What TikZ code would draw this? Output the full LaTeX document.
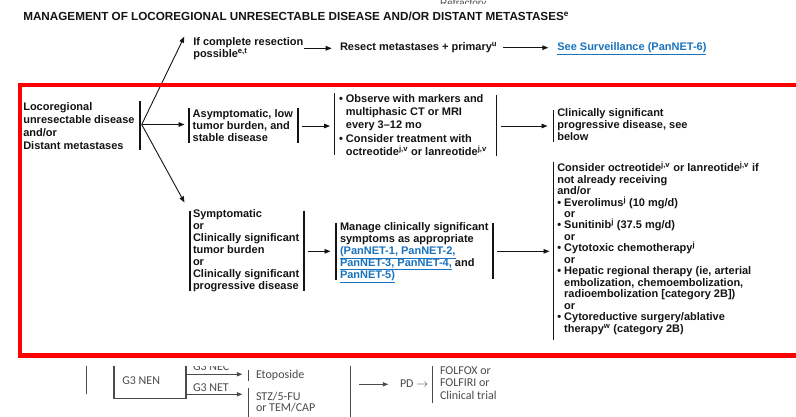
\documentclass[tikz,border=0pt]{standalone}
\usepackage{fontspec}
\setmainfont{Liberation Sans}
\newfontfamily\fragfont{Carlito}
\usetikzlibrary{arrows.meta}
\definecolor{ink}{RGB}{20,20,20}
\definecolor{lnk}{RGB}{25,115,190}
\definecolor{frg}{RGB}{75,75,75}
\definecolor{redbox}{RGB}{255,0,0}
\newcommand\lnk[1]{\textcolor{lnk}{\underline{#1}}}
\newcommand\sps[1]{\textsuperscript{#1}}
\newcommand\fst{\rule{0pt}{10pt}}
\newcommand\bl{\textbullet\ }
\newcommand\ind{\phantom{\textbullet\ }}
\begin{document}
\begin{tikzpicture}[x=1pt,y=-1pt,
  txt/.style={inner sep=0pt, outer sep=0pt, anchor=north west, align=left, text=ink,
    font={\fontsize{11}{#1}\selectfont\bfseries\lineskiplimit=-100pt}},
  txt/.default=13,
  one/.style={inner sep=0pt, outer sep=0pt, anchor=base west, text=ink,
    font=\fontsize{11}{13}\selectfont\bfseries},
  bar/.style={line width=1.8pt, draw=ink},
  arr/.style={line width=0.9pt, draw=ink, -{Triangle[length=6pt,width=4.6pt]}},
  frgtxt/.style={inner sep=0pt, outer sep=0pt, anchor=base west, text=frg,
    font=\fontsize{12}{12}\selectfont\fragfont},
  frgline/.style={line width=1.1pt, draw=frg},
  frgarr/.style={line width=1.1pt, draw=frg, -{Triangle[length=5.5pt,width=4.2pt]}}
]
\useasboundingbox (0,0) rectangle (796,416);
\fill[white] (0,0) rectangle (796,416);

% top clipped fragment
\begin{scope}
\clip (0,0) rectangle (796,3.5);
\node[inner sep=0pt, anchor=base west, text=frg, font=\fontsize{10}{10}\selectfont] (refr) at (440,6) {Refractory};
\end{scope}

% title
\node[one, font=\fontsize{11.7}{13}\selectfont\bfseries] (title) at (23.3,20.7)
  {MANAGEMENT OF LOCOREGIONAL UNRESECTABLE DISEASE AND/OR DISTANT METASTASES\sps{e}};

% top row
\node[txt=12] (ifc) at (193.3,35) {\fst If complete resection\\possible\sps{e,t}};
\node[one] (resect) at (340,50.7) {Resect metastases + primary\sps{u}};
\node[one] (surv) at (557.3,50.7) {\lnk{See Surveillance (PanNET-6)}};

% left main text
\node[txt=13] (loco) at (23.3,100) {\fst Locoregional\\unresectable disease\\and/or\\Distant metastases};

% middle row
\node[txt=12.2] (asym) at (192.7,107.3) {\fst Asymptomatic, low\\tumor burden, and\\stable disease};
\node[txt=13.1] (obs) at (339,92.7) {\fst\bl Observe with markers and\\\ind multiphasic CT or MRI\\\ind every 3–12 mo\\\bl Consider treatment with\\\ind octreotide\sps{j,v} or lanreotide\sps{j,v}};
\node[txt=12] (clin) at (557.3,106) {\fst Clinically significant\\progressive disease, see\\below};

% lower row
\node[txt=12.1] (symp) at (193,207.3) {\fst Symptomatic\\or\\Clinically significant\\tumor burden\\or\\Clinically significant\\progressive disease};
\node[txt=12.1] (manage) at (340,220) {\fst Manage clinically significant\\symptoms as appropriate\\\lnk{(PanNET-1, PanNET-2,}\\\lnk{PanNET-3, PanNET-4,} and\\\lnk{PanNET-5)}};
\node[txt=11.45] (opts) at (557.3,161.7) {\fst Consider octreotide\sps{j,v} or lanreotide\sps{j,v} if\\not already receiving\\and/or\\\bl Everolimus\sps{j} (10 mg/d)\\\ind or\\\bl Sunitinib\sps{j} (37.5 mg/d)\\\ind or\\\bl Cytotoxic chemotherapy\sps{j}\\\ind or\\\bl Hepatic regional therapy (ie, arterial\\\ind embolization, chemoembolization,\\\ind radioembolization [category 2B])\\\ind or\\\bl Cytoreductive surgery/ablative\\\ind therapy\sps{w} (category 2B)};

% bars
\draw[bar] (140,100.7) -- (140,150);
\draw[bar] (189,108) -- (189,143);
\draw[bar] (297.7,108) -- (297.7,143);
\draw[bar] (334.5,93.3) -- (334.5,155);
\draw[bar] (496.5,95) -- (496.5,156);
\draw[bar] (553.5,110) -- (553.5,142);
\draw[bar] (190,210.7) -- (190,290.7);
\draw[bar] (304.3,210.7) -- (304.3,290.7);
\draw[bar] (335.7,222.7) -- (335.7,280);
\draw[bar] (492.7,222.7) -- (492.7,279.3);
\draw[bar] (553.5,161.7) -- (553.5,340);

% connectors
\coordinate (br) at (141.7,124.5);
\coordinate (brUp) at (184.3,36.7);
\coordinate (brMid) at (184.5,124.5);
\coordinate (brLow) at (184.5,202.5);
\draw[arr] (br) -- (brUp);
\draw[arr] (br) -- (brMid);
\draw[arr] (br) -- (brLow);
\coordinate (a1s) at (304,48.3);   \coordinate (a1e) at (331.7,48.3);
\coordinate (a2s) at (503.3,47.7); \coordinate (a2e) at (548.3,47.7);
\coordinate (a3s) at (301.7,126);  \coordinate (a3e) at (330,126);
\coordinate (a4s) at (500.5,126);  \coordinate (a4e) at (547.5,126);
\coordinate (a5s) at (307.7,251.3);\coordinate (a5e) at (330.5,251.3);
\coordinate (a6s) at (497,251.3);  \coordinate (a6e) at (549.5,251.3);
\draw[arr] (a1s) -- (a1e);
\draw[arr] (a2s) -- (a2e);
\draw[arr] (a3s) -- (a3e);
\draw[arr] (a4s) -- (a4e);
\draw[arr] (a5s) -- (a5e);
\draw[arr] (a6s) -- (a6e);

% bottom clipped fragment
\begin{scope}
\clip (0,366.5) rectangle (796,416);
\draw[frgline] (86.7,355) -- (86.7,394.3);
\draw[frgline] (114,355) -- (114,398.3) -- (186,398.3) -- (186,355);
\coordinate (f1s) at (186,374.3); \coordinate (f1e) at (242.3,374.3);
\coordinate (f2s) at (186,394.3); \coordinate (f2e) at (242.3,394.3);
\draw[frgarr] (f1s) -- (f1e);
\draw[frgarr] (f2s) -- (f2e);
\node[frgtxt] (nec) at (193,370.3) {G3 NEC};
\node[frgtxt] (net) at (193,391.7) {G3 NET};
\node[frgtxt] (nen) at (122.3,384.3) {G3 NEN};
\draw[frgline] (248.3,370) -- (248.3,381);
\draw[frgline] (248.3,388.3) -- (248.3,420);
\node[frgtxt] (etop) at (256,378.3) {Etoposide};
\node[frgtxt] (stz) at (256,400.3) {STZ/5-FU};
\node[frgtxt] (tem) at (256,411.7) {or TEM/CAP};
\draw[frgline] (350.7,355) -- (350.7,420);
\coordinate (f3s) at (359.3,384.3); \coordinate (f3e) at (388.3,384.3);
\draw[frgarr] (f3s) -- (f3e);
\node[frgtxt] (pd) at (400,387.3) {PD $\rightarrow$};
\draw[frgline] (432.7,355) -- (432.7,403.3);
\node[frgtxt] (folfox) at (440,374.7) {FOLFOX or};
\node[frgtxt] (folfiri) at (440,386.7) {FOLFIRI or};
\node[frgtxt] (ct) at (440,399.3) {Clinical trial};
\end{scope}

% red highlight frame
\draw[redbox, line width=4.3pt] (805,85.3) -- (20.3,85.3) -- (20.3,355.5) -- (805,355.5);
\end{tikzpicture}
\end{document}
